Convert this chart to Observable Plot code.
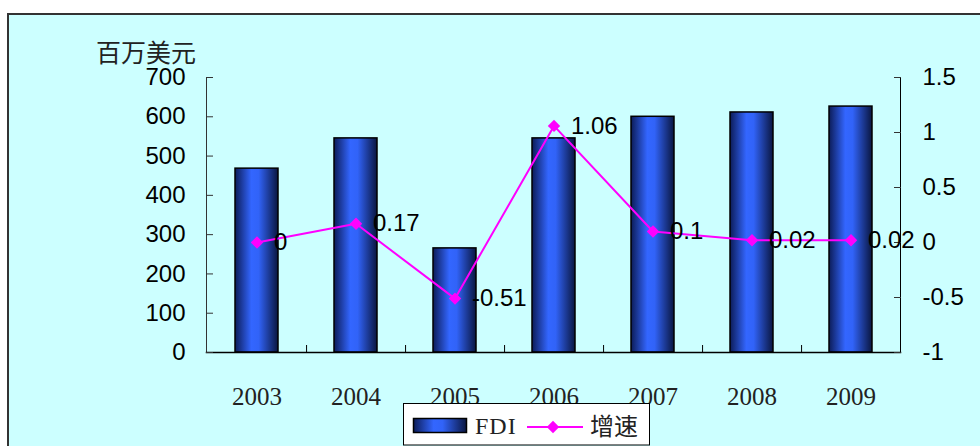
<!DOCTYPE html>
<html><head><meta charset="utf-8">
<script src="https://cdn.jsdelivr.net/npm/d3@7"></script>
<script src="https://cdn.jsdelivr.net/npm/@observablehq/plot@0.6"></script>
<style>
body{margin:0;background:#fff;}
#wrap{position:relative;width:980px;height:446px;overflow:hidden;}
#bg{position:absolute;left:7px;top:13px;width:1000px;height:460px;background:#ccffff;border-left:2px solid #333;border-top:2px solid #333;}
#chart{position:absolute;left:0;top:0;}
#unit{position:absolute;left:96px;top:39px;font-family:"Noto Sans CJK SC";font-size:25px;line-height:25px;color:#222;}
#legend{position:absolute;left:403px;top:403px;line-height:0;}
</style></head><body>
<div id="wrap"><div id="bg"></div><div id="chart"></div><div id="unit">百万美元</div><div id="legend"></div></div>
<script>
const years = ["2003","2004","2005","2006","2007","2008","2009"];
const fdi = [468, 545, 265, 545, 600, 611, 626];
const growth = [0, 0.17, -0.51, 1.06, 0.1, 0.02, 0.02];
const growthLabels = ["0","0.17","-0.51","1.06","0.1","0.02","0.02"];
const leftTicks = [0,100,200,300,400,500,600,700];
const rightTicks = [-1,-0.5,0,0.5,1,1.5];
const leftDomain = [0,700];
const rightDomain = [-1,1.5];
const seriesNames = ["FDI","增速"];

const data = years.map((y,i)=>({year:y, fdi:fdi[i], growth:growth[i], label:growthLabels[i]}));
const toLeft = g => (g - rightDomain[0]) * (leftDomain[1]-leftDomain[0]) / (rightDomain[1]-rightDomain[0]) + leftDomain[0];
const fromLeft = v => (v - leftDomain[0]) * (rightDomain[1]-rightDomain[0]) / (leftDomain[1]-leftDomain[0]) + rightDomain[0];

const W=980, H=446, mL=206, mR=80, mT=77, mB=94;
const step = (W-mL-mR)/years.length;
const sans = "Liberation Sans, Arial, sans-serif";
const serif = "Liberation Serif, Times New Roman, serif";

const chart = Plot.plot({
  width: W, height: H,
  marginLeft: mL, marginRight: mR, marginTop: mT, marginBottom: mB,
  style: {background:"transparent", fontFamily: sans, color:"#000", overflow:"visible"},
  x: {domain: years, paddingInner: 0.566, paddingOuter: 0.283, axis: null, label: null},
  y: {domain: leftDomain, axis: null, label: null},
  marks: [
    Plot.barY(data, {x:"year", y:"fdi", fill:"url(#barGrad)", stroke:"#000", strokeWidth:1.5}),
    Plot.frame({anchor:"left", stroke:"#333"}),
    Plot.frame({anchor:"right", stroke:"#000"}),
    Plot.frame({anchor:"bottom", stroke:"#000", strokeWidth:1.5}),
    Plot.axisY(leftTicks, {anchor:"left", label:null, tickSize:7, dx:7, tickFormat:()=>"", stroke:"#333"}),
    Plot.axisY(leftTicks, {anchor:"left", label:null, tickSize:0, tickPadding:21, fontSize:24, fontFamily:sans}),
    Plot.axisY(rightTicks.map(toLeft), {anchor:"right", label:null, tickSize:7, dx:-7, tickFormat:()=>"", stroke:"#333"}),
    Plot.axisY(rightTicks.map(toLeft), {anchor:"right", label:null, tickSize:0, tickPadding:22, fontSize:24, fontFamily:sans,
      tickFormat: d => String(+fromLeft(d).toFixed(2))}),
    Plot.axisX(years, {anchor:"bottom", label:null, tickSize:0, tickPadding:35, fontSize:25, fontFamily:serif, fill:"#222", letterSpacing:1}),
    Plot.axisX(years.slice(0,-1), {anchor:"bottom", label:null, tickSize:7, dy:-7, dx: step/2, tickFormat:()=>""}),
    Plot.lineY(data, {x:"year", y: d => toLeft(d.growth), stroke:"#ff00ff", strokeWidth:2}),
    Plot.dot(data, {x:"year", y: d => toLeft(d.growth), symbol:"diamond2", r:5.6, fill:"#ff00ff"}),
    Plot.text(data, {x:"year", y: d => toLeft(d.growth), text:"label", dx:17, textAnchor:"start", fontSize:24, fontFamily:sans, fill:"#000"})
  ]
});

const ns = "http://www.w3.org/2000/svg";
function addGrad(svg, id){
  const defs = document.createElementNS(ns,"defs");
  defs.innerHTML = `<linearGradient id="${id}" x1="0" x2="1" y1="0" y2="0">
    <stop offset="0" stop-color="#0c1c58"/>
    <stop offset="0.38" stop-color="#3366ff"/>
    <stop offset="0.55" stop-color="#3163f8"/>
    <stop offset="1" stop-color="#0a1640"/>
  </linearGradient>`;
  svg.insertBefore(defs, svg.firstChild);
}
addGrad(chart, "barGrad");
document.getElementById("chart").appendChild(chart);

// legend
const lg = d3.select("#legend").append("svg").attr("width",247).attr("height",43);
addGrad(lg.node(), "legGrad");
lg.append("rect").attr("x",0.5).attr("y",0.5).attr("width",246).attr("height",41.5).attr("fill","#fff").attr("stroke","#000");
lg.append("rect").attr("x",10.5).attr("y",15.5).attr("width",53).attr("height",14).attr("fill","url(#legGrad)").attr("stroke","#000").attr("stroke-width",1.5);
lg.append("text").attr("x",72).attr("y",31).attr("font-family",serif).attr("font-size",24).attr("letter-spacing",1).attr("fill","#222").text(seriesNames[0]);
lg.append("line").attr("x1",124).attr("x2",180).attr("y1",24).attr("y2",24).attr("stroke","#ff00ff").attr("stroke-width",2);
lg.append("path").attr("transform","translate(150,24)").attr("d",d3.symbol(d3.symbolDiamond2, 5.6*5.6*Math.PI)()).attr("fill","#ff00ff");
lg.append("text").attr("x",187).attr("y",32).attr("font-family","Noto Sans CJK SC").attr("font-size",24).attr("fill","#222").text(seriesNames[1]);
</script>
</body></html>
